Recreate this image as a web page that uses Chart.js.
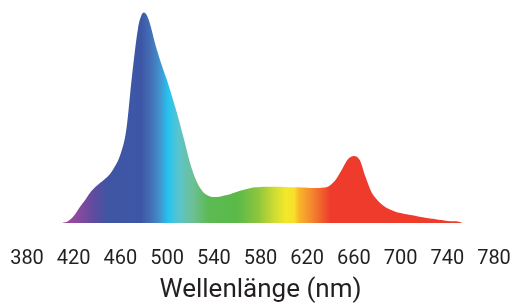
<!DOCTYPE html>
<html>
<head>
<meta charset="utf-8">
<script src="https://cdn.jsdelivr.net/npm/chart.js@4/dist/chart.umd.min.js"></script>
<style>
  html,body{margin:0;padding:0;background:#fff;}
  #wrap{width:526px;height:307px;position:relative;}
</style>
</head>
<body>
<div id="wrap"><canvas id="spec"></canvas></div>
<script>
/* ===== Daten ===== */
const WL = [410,415,420,425,430,435,440,445,450,455,460,465,470,475,478,480,482,485,490,495,500,505,
  510,515,520,525,530,535,540,545,550,555,560,565,570,575,580,585,590,595,600,605,
  610,615,620,625,630,635,640,645,650,655,660,665,670,675,680,685,690,695,700,705,
  710,715,720,725,730,735,740,745,750,753];
const INTENS = [0,0.8,3.3,7.4,11,15,17.8,20,22.5,26.5,32.5,44,70,92,98.5,99.8,99,95,84.5,75.5,67.5,58.5,
  49,38.5,27.8,20,15.3,13,12.3,12.5,13.1,13.9,14.8,15.6,16.4,16.9,17.1,17.2,17.2,17.2,17.1,17,
  16.9,16.8,16.7,16.6,16.6,16.8,18,21,25.6,30.3,31.8,29.9,21.8,14.7,10.9,8.3,6.6,5.5,4.7,4.1,
  3.7,3.1,2.6,2.1,1.8,1.4,1,0.8,0.6,0];
const TICKS = [380,420,460,500,540,580,620,660,700,740,780];
const X_TITLE = 'Wellenlänge (nm)';

// Farbverlauf: Wellenlänge -> Farbe
const STOP_NM  = [410,420,438,450,478,488,495,501,510,522,535,560,578,592,602,609,613,625,640,780];
const STOP_COL = ['#a64a9e','#94499f','#5c4c9f','#3f55a4','#3d57a6','#4576bb','#3e9ad4','#26c3ef',
  '#5ac4cc','#6dc096','#5cba54','#5ab947','#8dc53e','#cfdc33','#f4e82a','#f6e02b','#f9b52a',
  '#f3822f','#ee3b2c','#ee3b2c'];

const $ = s => document.querySelector(s);

function spectrumFill(ctx){
  const chart = ctx.chart, x = chart.scales.x;
  if(!chart.chartArea || !x) return STOP_COL[0];
  const x0 = x.getPixelForValue(380), x1 = x.getPixelForValue(780);
  if(!isFinite(x0) || !isFinite(x1)) return STOP_COL[0];
  const g = chart.ctx.createLinearGradient(x0,0,x1,0);
  STOP_NM.forEach((nm,i)=> g.addColorStop((nm-380)/400, STOP_COL[i]));
  return g;
}

new Chart($('#spec'),{
  type:'line',
  data:{datasets:[{
    data: WL.map((w,i)=>({x:w, y:INTENS[i]})),
    fill:'origin', backgroundColor:spectrumFill,
    borderWidth:0, pointRadius:0, cubicInterpolationMode:'monotone'
  }]},
  options:{
    responsive:true, maintainAspectRatio:false, animation:false,
    layout:{padding:{left:27,right:32,top:12,bottom:0}},
    plugins:{legend:{display:false}, tooltip:{enabled:false}},
    scales:{
      x:{type:'linear', min:380, max:780,
        grid:{display:false, drawTicks:false}, border:{display:false},
        afterBuildTicks: s => { s.ticks = TICKS.map(v=>({value:v})); },
        // feste Achsenhöhe, keine Zusatzränder für die Randbeschriftungen
        afterFit: s => { s.paddingLeft = 0; s.paddingRight = 0; s.height = 84; },
        ticks:{color:'#231f20', padding:24, maxRotation:0, autoSkip:false,
          font:{family:'Roboto', size:20}},
        title:{display:true, text:X_TITLE, color:'#231f20', padding:{top:0,bottom:1},
          font:{family:'Roboto', size:26}}
      },
      y:{display:false, min:0, max:100}
    }
  }
});
</script>
</body>
</html>
